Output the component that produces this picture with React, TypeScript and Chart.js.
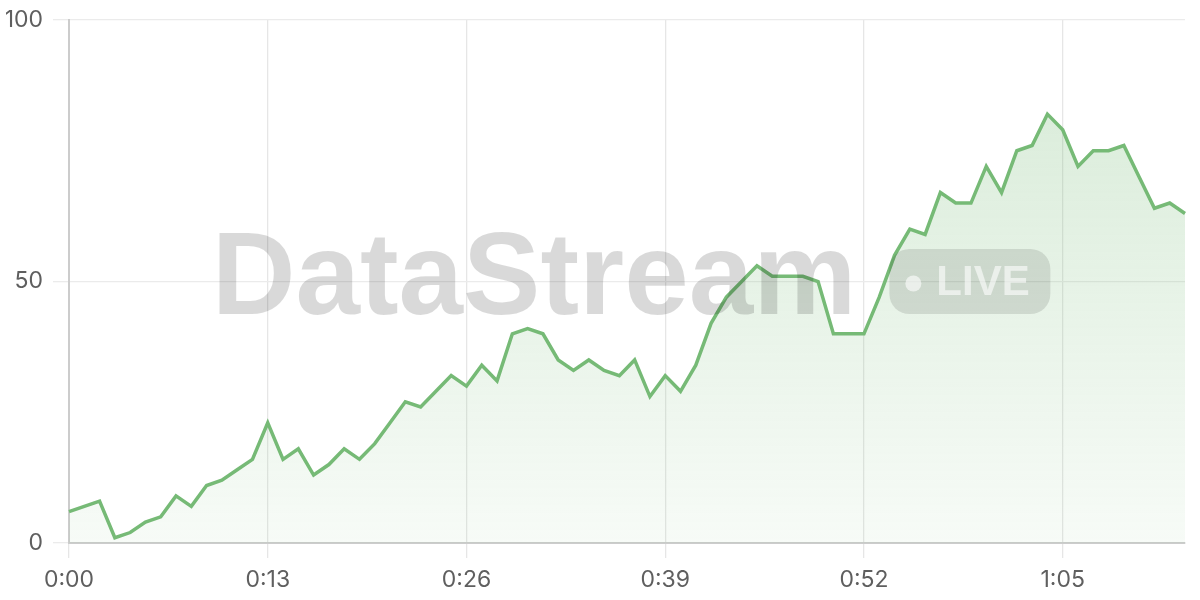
import React, { useEffect, useRef } from "react";
import { Chart, registerables } from "chart.js";

Chart.register(...registerables);

// Seconds elapsed 0:00 .. 1:13 (one sample per second)
const values: number[] = [
  6, 7, 8, 1, 2, 4, 5, 9, 7, 11,
  12, 14, 16, 23, 16, 18, 13, 15, 18, 16,
  19, 23, 27, 26, 29, 32, 30, 34, 31, 40,
  41, 40, 35, 33, 35, 33, 32, 35, 28, 32,
  29, 34, 42, 47, 50, 53, 51, 51, 51, 50,
  40, 40, 40, 47, 55, 60, 59, 67, 65, 65,
  72, 67, 75, 76, 82, 79, 72, 75, 75, 76,
  70, 64, 65, 63,
];
const tickEvery = 13;
const yTicks: number[] = [0, 50, 100];
const watermarkTitle = "DataStream";
const watermarkBadge = "LIVE";

const fmt = (s: number) => `${Math.floor(s / 60)}:${String(s % 60).padStart(2, "0")}`;
const labels: string[] = values.map((_, i) => fmt(i));

const LINE = "rgb(118, 186, 118)";
const WM_FONT = "'Liberation Sans', Arial, sans-serif";
const TICK_FONT = "Inter, 'Liberation Sans', sans-serif";

const watermarkPlugin = {
  id: "watermark",
  afterDraw(chart: any) {
    const { ctx, chartArea } = chart;
    const cx = (chartArea.left + chartArea.right) / 2 + 4;
    const cy = (chartArea.top + chartArea.bottom) / 2;
    ctx.save();
    ctx.font = `bold 116px ${WM_FONT}`;
    const tw = ctx.measureText(watermarkTitle).width;
    const gap = 33;
    const bw = 161;
    const bh = 65;
    const total = tw + gap + bw;
    const x0 = cx - total / 2;
    const baseline = cy + bh / 2;
    ctx.fillStyle = "rgba(0,0,0,0.15)";
    ctx.textBaseline = "alphabetic";
    ctx.textAlign = "left";
    ctx.fillText(watermarkTitle, x0, baseline);
    // badge
    const bx = x0 + tw + gap;
    const by = cy - bh / 2;
    const r = 20;
    ctx.beginPath();
    ctx.moveTo(bx + r, by);
    ctx.lineTo(bx + bw - r, by);
    ctx.arcTo(bx + bw, by, bx + bw, by + r, r);
    ctx.lineTo(bx + bw, by + bh - r);
    ctx.arcTo(bx + bw, by + bh, bx + bw - r, by + bh, r);
    ctx.lineTo(bx + r, by + bh);
    ctx.arcTo(bx, by + bh, bx, by + bh - r, r);
    ctx.lineTo(bx, by + r);
    ctx.arcTo(bx, by, bx + r, by, r);
    ctx.closePath();
    ctx.fillStyle = "rgba(0,0,0,0.11)";
    ctx.fill();
    ctx.fillStyle = "rgba(255,255,255,0.6)";
    ctx.beginPath();
    ctx.arc(bx + 24, cy + 2, 8, 0, Math.PI * 2);
    ctx.fill();
    ctx.font = `bold 42px ${WM_FONT}`;
    ctx.textBaseline = "middle";
    ctx.fillText(watermarkBadge, bx + 47, cy + 2);
    ctx.restore();
  },
};

export default function App() {
  const ref = useRef<HTMLCanvasElement | null>(null);
  useEffect(() => {
    document.body.style.margin = "0";
    const canvas = ref.current!;
    const chart = new Chart(canvas, {
      type: "line",
      data: {
        labels,
        datasets: [
          {
            data: values,
            borderColor: LINE,
            borderWidth: 3.5,
            pointRadius: 0,
            tension: 0,
            fill: true,
            backgroundColor: (c: any) => {
              const area = c.chart.chartArea;
              if (!area) return "rgba(118,186,118,0.15)";
              const g = c.chart.ctx.createLinearGradient(0, area.top, 0, area.bottom);
              g.addColorStop(0, "rgba(118,186,118,0.3)");
              g.addColorStop(1, "rgba(118,186,118,0.06)");
              return g;
            },
          },
        ],
      },
      options: {
        animation: false,
        responsive: false,
        layout: { padding: { left: 6, right: 15, top: 0, bottom: 0 } },
        plugins: { legend: { display: false }, tooltip: { enabled: false } },
        scales: {
          x: {
            type: "category",
            offset: false,
            afterFit: (s: any) => {
              s.height = 57;
            },
            grid: { color: "#e6e6e6", lineWidth: 1.3, tickLength: 15, tickColor: "#e6e6e6" },
            border: { color: "#cccccc", width: 2 },
            ticks: {
              autoSkip: false,
              maxRotation: 0,
              padding: 8,
              color: "#5f5f5f",
              font: { size: 23, family: TICK_FONT },
              callback: (_v: any, i: number) => (i % tickEvery === 0 ? labels[i] : null),
            },
          },
          y: {
            min: yTicks[0],
            max: yTicks[yTicks.length - 1],
            afterBuildTicks: (s: any) => {
              s.ticks = yTicks.map((v) => ({ value: v }));
            },
            afterFit: (s: any) => {
              s.width = 63;
              s.paddingTop = 20;
            },
            grid: { color: "#ebebeb", lineWidth: 1.3, tickLength: 16, tickColor: "#ebebeb" },
            border: { color: "#cccccc", width: 2 },
            ticks: {
              padding: 10,
              color: "#5f5f5f",
              font: { size: 23, family: TICK_FONT },
            },
          },
        },
      },
      plugins: [watermarkPlugin],
    } as any);
    return () => chart.destroy();
  }, []);
  return (
    <div style={{ width: 1200, height: 600 }}>
      <canvas ref={ref} width={1200} height={600} style={{ display: "block" }} />
    </div>
  );
}
